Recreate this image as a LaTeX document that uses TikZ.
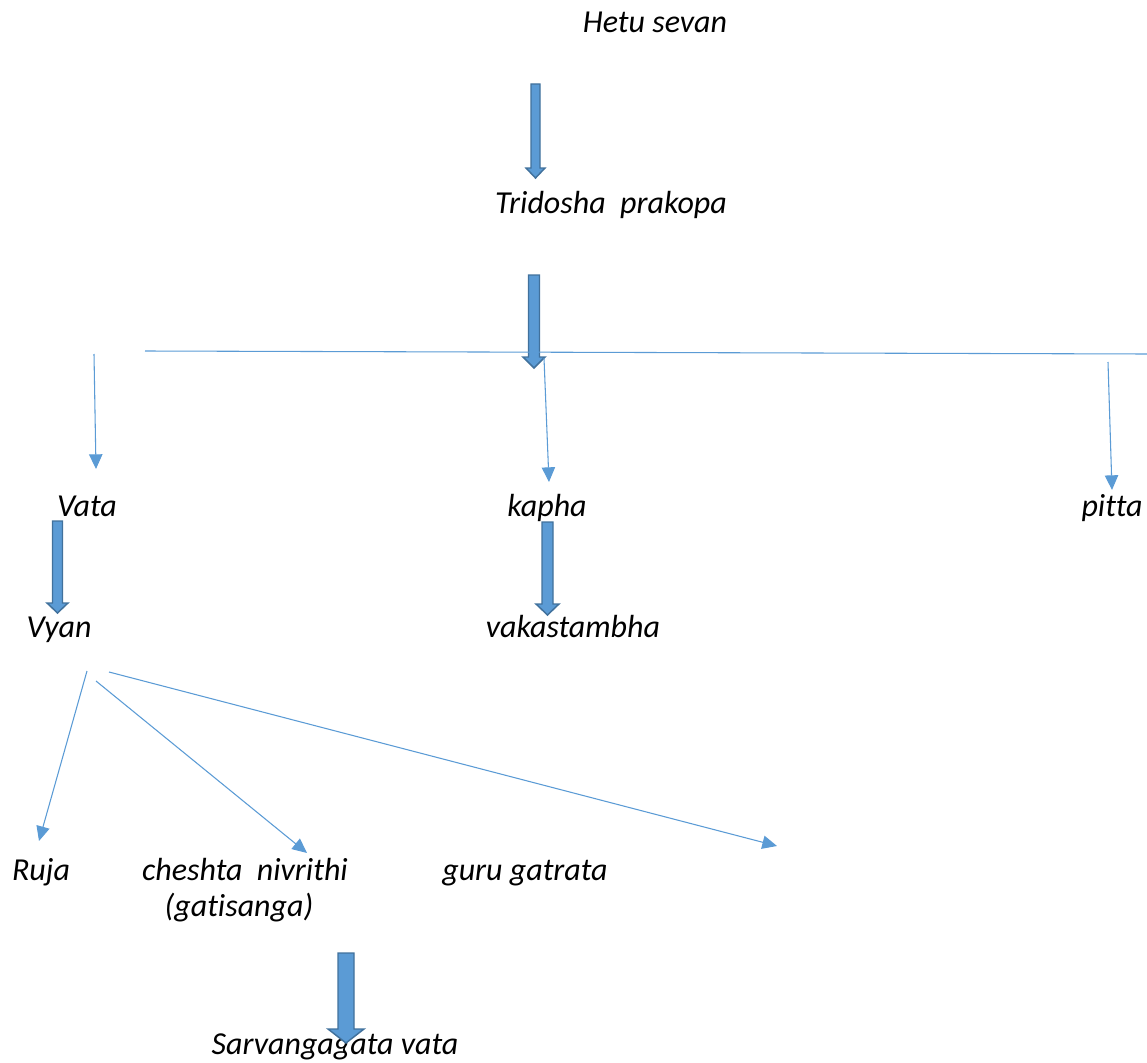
\documentclass[tikz,border=0pt]{standalone}
\usepackage{fontspec}
\setmainfont{Carlito}[Ligatures=NoCommon]
\usetikzlibrary{arrows.meta}
\definecolor{afill}{HTML}{5B9BD5}
\definecolor{aline}{HTML}{41719C}
\newcommand{\blockarr}[6]{% x, ytop, yhead, ytip, shaft half, head half
  \draw[blockstyle] (#1-#5,#2) -- (#1+#5,#2) -- (#1+#5,#3) -- (#1+#6,#3) -- (#1,#4) -- (#1-#6,#3) -- (#1-#5,#3) -- cycle;}
\tikzset{
  lbl/.style={anchor=base,inner sep=0pt,font=\fontsize{24}{28}\selectfont\itshape},
  thin/.style={draw=afill,line width=0.8pt,-{Triangle[length=11pt,width=10pt]}},
  blockstyle/.style={fill=afill,draw=aline,line width=1.1pt,line join=miter},
}
\begin{document}
\begin{tikzpicture}[x=0.75pt,y=-0.75pt]
\useasboundingbox (0,0) rectangle (1147,1063);
% labels
\node[lbl] (hetu) at (655,33) {Hetu sevan};
\node[lbl] (tri) at (611,213) {Tridosha\ \ prakopa};
\node[lbl] (vata) at (87,516) {Vata};
\node[lbl] (kapha) at (547,516) {kapha};
\node[lbl] (pitta) at (1112,516) {pitta};
\node[lbl] (vyan) at (59,637) {Vyan};
\node[lbl] (vaka) at (573,637) {vakastambha};
\node[lbl] (ruja) at (41,880) {Ruja};
\node[lbl] (chesh) at (245,880) {cheshta\ \ nivrithi};
\node[lbl] (gati) at (239,916) {(gatisanga)};
\node[lbl] (guru) at (525,880) {guru gatrata};
\node[lbl] (sarva) at (335,1054) {Sarvangagata vata};
% block arrows
\blockarr{535.5}{84}{168}{178}{4.5}{9.5}
\blockarr{534}{275}{357}{368}{5.5}{11}
\blockarr{57.5}{521}{603}{613}{5}{10.5}
\blockarr{547.5}{522}{604}{615}{5.5}{11.5}
\blockarr{346}{953}{1029}{1043}{8}{18}
% horizontal line
\coordinate (hl) at (145,351);
\coordinate (hr) at (1147,354);
\draw[afill,line width=0.8pt] (hl) -- (hr);
% thin arrows
\coordinate (va0) at (94,354);   \coordinate (va1) at (96,469);
\coordinate (ka0) at (544,358);  \coordinate (ka1) at (549,482);
\coordinate (pi0) at (1108,362); \coordinate (pi1) at (1112,490);
\draw[thin] (va0) -- (va1);
\draw[thin] (ka0) -- (ka1);
\draw[thin] (pi0) -- (pi1);
\coordinate (r0) at (87,671);  \coordinate (r1) at (39,841);
\coordinate (c0) at (96,681);  \coordinate (c1) at (307,853);
\coordinate (g0) at (109,672); \coordinate (g1) at (777,846);
\draw[thin] (r0) -- (r1);
\draw[thin] (c0) -- (c1);
\draw[thin] (g0) -- (g1);
\end{tikzpicture}
\end{document}
